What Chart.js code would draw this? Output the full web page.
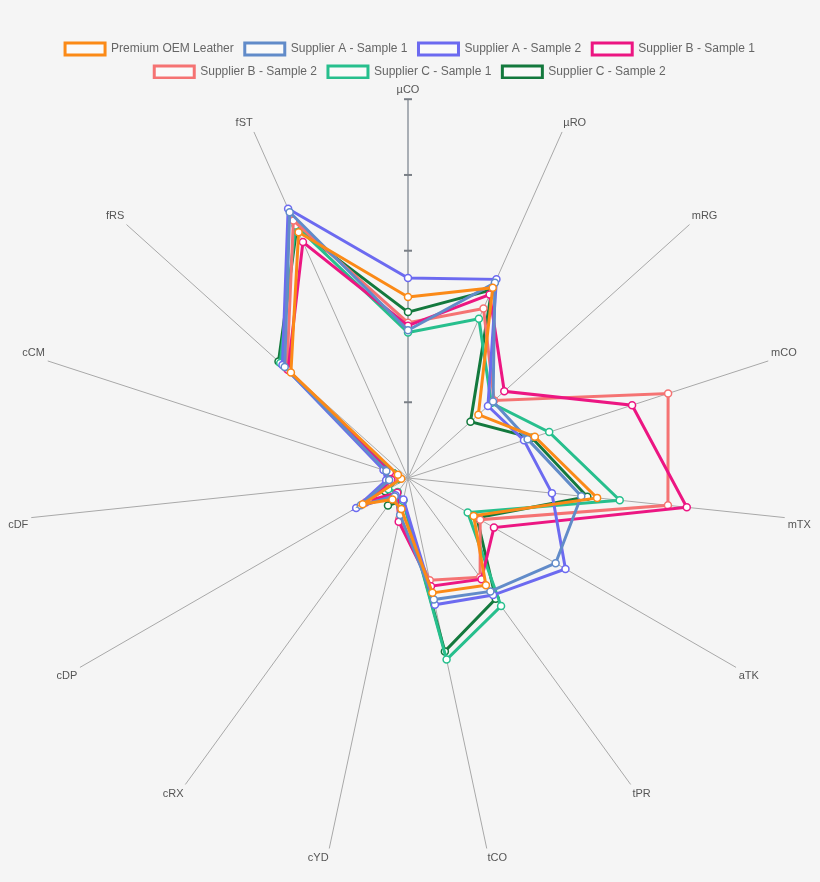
<!DOCTYPE html>
<html>
<head>
<meta charset="utf-8">
<script src="https://cdn.jsdelivr.net/npm/chart.js@4/dist/chart.umd.min.js"></script>
<style>
  html, body { margin: 0; padding: 0; background: #f5f5f5; }
  #wrap { width: 820px; height: 882px; }
</style>
</head>
<body>
<div id="wrap"><canvas id="radar"></canvas></div>
<script>
// axis names, clockwise from the top
const axes = ['µCO', 'µRO', 'mRG', 'mCO', 'mTX', 'aTK', 'tPR', 'tCO', 'cYD', 'cRX', 'cDP', 'cDF', 'cCM', 'fRS', 'fST'];

// measured values per sample (scale 0 - 5)
const premiumOem = [2.39, 2.75, 1.25, 1.76, 2.51, 1.00, 1.75, 1.55, 0.42, 0.35, 0.69, 0.09, 0.14, 2.08, 3.55];
const supplierA1 = [1.95, 2.82, 1.51, 1.66, 2.30, 2.25, 1.85, 1.64, 0.50, 0.30, 0.72, 0.25, 0.30, 2.19, 3.84];
const supplierA2 = [2.64, 2.87, 1.42, 1.61, 1.91, 2.40, 1.91, 1.71, 0.29, 0.28, 0.79, 0.29, 0.34, 2.23, 3.89];
const supplierB1 = [2.01, 2.65, 1.71, 3.11, 3.70, 1.31, 1.65, 1.46, 0.59, 0.24, 0.60, 0.22, 0.25, 2.13, 3.41];
const supplierB2 = [2.05, 2.45, 1.53, 3.61, 3.45, 1.10, 1.62, 1.38, 0.55, 0.27, 0.65, 0.20, 0.27, 2.15, 3.72];
const supplierC1 = [1.92, 2.30, 1.48, 1.96, 2.81, 0.91, 2.09, 2.45, 0.31, 0.23, 0.30, 0.15, 0.20, 2.27, 3.65];
const supplierC2 = [2.19, 2.72, 1.11, 1.72, 2.38, 1.05, 1.97, 2.34, 0.30, 0.45, 0.35, 0.12, 0.20, 2.30, 3.61];

const scaleMax = 5;
const scaleStep = 1;

const series = [
	{ label: 'Premium OEM Leather', data: premiumOem, color: '#fb8a17' },
	{ label: 'Supplier A - Sample 1', data: supplierA1, color: '#618bc9' },
	{ label: 'Supplier A - Sample 2', data: supplierA2, color: '#6c6af0' },
	{ label: 'Supplier B - Sample 1', data: supplierB1, color: '#ec1682' },
	{ label: 'Supplier B - Sample 2', data: supplierB2, color: '#f57373' },
	{ label: 'Supplier C - Sample 1', data: supplierC1, color: '#27bf8d' },
	{ label: 'Supplier C - Sample 2', data: supplierC2, color: '#13793d' },
];

// small dashes on the first axis where the ticks sit
const tickMarks = {
	id: 'tickMarks',
	beforeDatasetsDraw(chart) {
		const scale = chart.scales.r;
		const ctx = chart.ctx;
		ctx.save();
		ctx.strokeStyle = '#7a7f86';
		ctx.lineWidth = 2;
		scale.ticks.forEach((t) => {
			if (t.value === 0) return;
			const p = scale.getPointPositionForValue(0, t.value);
			ctx.beginPath();
			ctx.moveTo(p.x - 4, p.y);
			ctx.lineTo(p.x + 4, p.y);
			ctx.stroke();
		});
		ctx.restore();
	},
};

// tighten the gap under the legend
const legendGap = {
	id: 'legendGap',
	beforeInit(chart) {
		const fit = chart.legend.fit;
		chart.legend.fit = function () {
			fit.call(this);
			this.height -= 9;
		};
	},
};

new Chart(document.getElementById('radar'), {
	type: 'radar',
	data: {
		labels: axes,
		datasets: series.map((s) => ({
			label: s.label,
			data: s.data,
			borderColor: s.color,
			backgroundColor: 'rgba(255, 255, 255, 0.5)',
			borderWidth: 3,
			fill: false,
			pointRadius: 3.5,
			pointBorderWidth: 1.5,
			pointBackgroundColor: '#ffffff',
			pointBorderColor: s.color,
			tension: 0,
		})),
	},
	options: {
		responsive: true,
		maintainAspectRatio: false,
		animation: false,
		layout: {
			padding: { top: 32, bottom: 13 },
		},
		scales: {
			r: {
				min: 0,
				max: scaleMax,
				ticks: {
					stepSize: scaleStep,
					display: false,
				},
				grid: {
					display: false,
				},
				angleLines: {
					color: (ctx) => (ctx.index === 0 ? '#a9aeb5' : '#a8a8a8'),
					lineWidth: (ctx) => (ctx.index === 0 ? 2 : 1),
				},
				pointLabels: {
					color: '#555',
					padding: 3,
					font: { size: 11 },
				},
			},
		},
		plugins: {
			legend: {
				labels: {
					color: '#666',
					padding: 11,
					font: { size: 12 },
				},
			},
			tooltip: { enabled: false },
		},
	},
	plugins: [tickMarks, legendGap],
});
</script>
</body>
</html>
